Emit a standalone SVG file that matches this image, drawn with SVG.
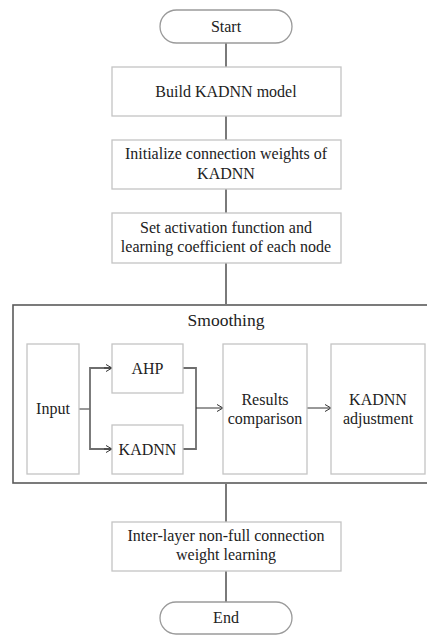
<svg xmlns="http://www.w3.org/2000/svg" width="427" height="635" viewBox="0 0 427 635">
<style>
.box{fill:#fff;stroke:#c4c4c4;stroke-width:1.3}
.pill{fill:#fff;stroke:#9a9a9a;stroke-width:1.3}
.main{fill:none;stroke:#7a7a7a;stroke-width:2}
.br{fill:none;stroke:#6e6e6e;stroke-width:1.8}
.thin{fill:none;stroke:#333;stroke-width:1}
.group{fill:#fff;stroke:#5a5a5a;stroke-width:1.6}
</style>
<defs>
<marker id="ah" viewBox="0 0 8 8" refX="7" refY="4" markerWidth="8" markerHeight="8" markerUnits="userSpaceOnUse" orient="auto">
<path d="M1,0.5 L7,4 L1,7.5" fill="none" stroke="#333" stroke-width="1"/>
</marker>
</defs>
<rect width="427" height="635" fill="#fff"/>
<g id="smoothing">
<rect class="group" x="13" y="305" width="420" height="178"/>
</g>
<g id="connectors">
<line class="main" x1="226" y1="43" x2="226" y2="67"/>
<line class="main" x1="226" y1="116" x2="226" y2="140"/>
<line class="main" x1="226" y1="189" x2="226" y2="213"/>
<line class="main" x1="226" y1="263" x2="226" y2="305"/>
<line class="main" x1="226" y1="483" x2="226" y2="522"/>
<line class="main" x1="226" y1="571" x2="226" y2="602"/>
<line class="thin" x1="79" y1="409" x2="90" y2="409"/>
<path class="br" d="M111,368 H90 V449 H111"/>
<line class="thin" x1="104" y1="368" x2="112" y2="368" marker-end="url(#ah)"/>
<line class="thin" x1="104" y1="449" x2="112" y2="449" marker-end="url(#ah)"/>
<path class="br" d="M183,368 H196 V449 H183"/>
<line class="thin" x1="196" y1="408" x2="223" y2="408" marker-end="url(#ah)"/>
<line class="thin" x1="307" y1="408" x2="331" y2="408" marker-end="url(#ah)"/>
</g>
<g font-family="Liberation Serif, Times New Roman, serif" font-size="16" fill="#222" text-anchor="middle">
<g id="smoothing-label"><text x="226" y="326" font-size="17.5">Smoothing</text></g>
<g id="start">
<rect class="pill" x="160" y="10" width="132" height="33" rx="16.5"/>
<text x="226" y="32">Start</text>
</g>
<g id="build">
<rect class="box" x="112" y="67" width="229" height="49"/>
<text x="226" y="97">Build KADNN model</text>
</g>
<g id="init">
<rect class="box" x="112" y="140" width="229" height="49"/>
<text x="226" y="159">Initialize connection weights of</text>
<text x="226" y="179">KADNN</text>
</g>
<g id="setact">
<rect class="box" x="112" y="213" width="229" height="50"/>
<text x="226" y="233">Set activation function and</text>
<text x="226" y="252">learning coefficient of each node</text>
</g>
<g id="input">
<rect class="box" x="27" y="344" width="52" height="130"/>
<text x="53" y="414">Input</text>
</g>
<g id="ahp">
<rect class="box" x="112" y="344" width="71" height="49"/>
<text x="147.5" y="374">AHP</text>
</g>
<g id="kadnn">
<rect class="box" x="112" y="425" width="71" height="49"/>
<text x="147.5" y="455">KADNN</text>
</g>
<g id="results">
<rect class="box" x="223" y="344" width="84" height="130"/>
<text x="265" y="405">Results</text>
<text x="265" y="424">comparison</text>
</g>
<g id="adjust">
<rect class="box" x="331" y="344" width="94" height="130"/>
<text x="378" y="405">KADNN</text>
<text x="378" y="424">adjustment</text>
</g>
<g id="interlayer">
<rect class="box" x="112" y="522" width="229" height="49"/>
<text x="226" y="541">Inter-layer non-full connection</text>
<text x="226" y="560">weight learning</text>
</g>
<g id="end">
<rect class="pill" x="160" y="602" width="132" height="32" rx="16"/>
<text x="226" y="623">End</text>
</g>
</g>
</svg>
